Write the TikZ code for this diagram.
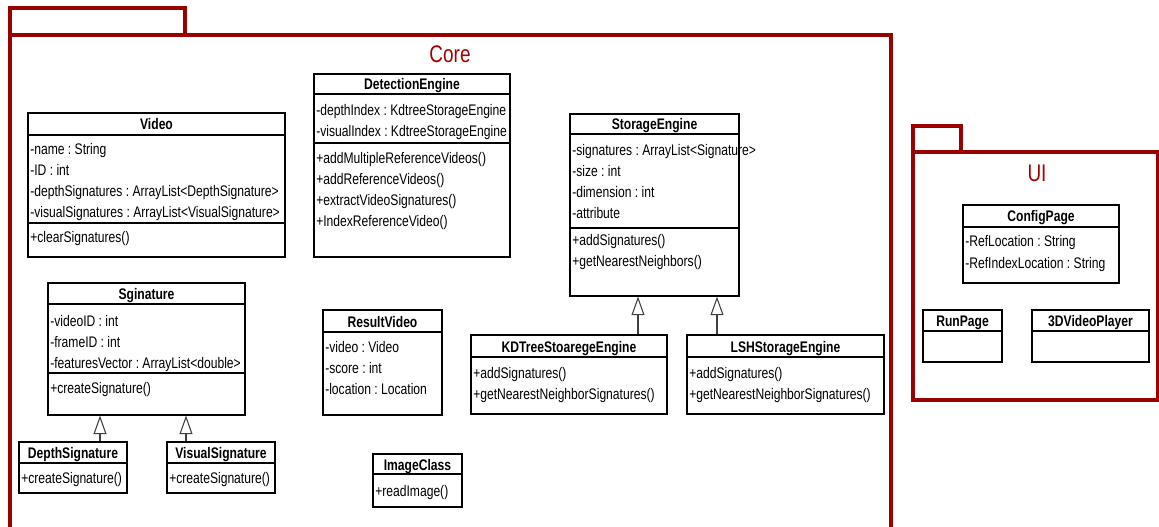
\documentclass[tikz,border=0pt]{standalone}
\usepackage{fontspec}
\setmainfont[FakeStretch=0.79]{Liberation Sans}
\usetikzlibrary{arrows.meta,fit}
\definecolor{pkgred}{RGB}{153,0,0}
\definecolor{lblred}{RGB}{165,0,0}
\frenchspacing
\newcommand\uclass[7]{%
  \node[classbox, fit={(#2,#3) (#4,#5)}] (#1) {};
  \draw[divider] (#2,#6) -- (#4,#6);
  \node[ctitle] (#1-title) at ({(#2+#4)/2},{(#3+#6)/2+6}) {#7};
}
\newcommand\uline[4]{\node[cline] (#1) at (#2,{#3+6}) {#4};}
\begin{document}
\begin{tikzpicture}[x=0.75pt,y=-0.75pt,
  classbox/.style={draw=black, line width=0.8pt, fill=white, inner sep=0pt},
  divider/.style={draw=black, line width=0.8pt},
  ctitle/.style={font=\fontsize{11.5}{13}\selectfont\bfseries\frenchspacing, inner sep=0pt, anchor=base},
  cline/.style={font=\fontsize{11.5}{13}\selectfont\frenchspacing, inner sep=0pt, anchor=base west},
  pkg/.style={draw=pkgred, line width=2.7pt},
  pkglabel/.style={text=lblred, font=\fontsize{18}{20}\selectfont, inner sep=0pt},
  inherit/.style={draw=black!75, line width=0.8pt, -{Triangle[open, width=9.75pt, length=14pt]}}
]
\useasboundingbox[fill=white] (0,0) rectangle (1159,527);

% packages
\draw[pkg] (10,35) rectangle (185,8);
\draw[pkg] (10,540) -- (10,35) -- (891,35) -- (891,540);
\node[pkglabel] (corelabel) at (450,54) {Core};
\draw[pkg] (913,152) rectangle (961,126);
\draw[pkg] (913,152) rectangle (1157.5,400);
\node[pkglabel] (uilabel) at (1037,173) {UI};

% Video
\uclass{video}{28}{113}{285}{257}{135}{Video}
\draw[divider] (28,223) -- (285,223);
\uline{v1}{30}{149}{-name : String}
\uline{v2}{30}{170}{-ID : int}
\uline{v3}{30}{191}{-depthSignatures : ArrayList<DepthSignature>}
\uline{v4}{30}{212}{-visualSignatures : ArrayList<VisualSignature>}
\uline{v5}{30}{237}{+clearSignatures()}

% DetectionEngine
\uclass{det}{314}{74}{510}{257}{94}{DetectionEngine}
\draw[divider] (314,143) -- (510,143);
\uline{d1}{316}{110}{-depthIndex : KdtreeStorageEngine}
\uline{d2}{316}{131}{-visualIndex : KdtreeStorageEngine}
\uline{d3}{316}{158}{+addMultipleReferenceVideos()}
\uline{d4}{316}{179}{+addReferenceVideos()}
\uline{d5}{316}{200}{+extractVideoSignatures()}
\uline{d6}{316}{221}{+IndexReferenceVideo()}

% StorageEngine
\uclass{se}{570}{114}{739}{296}{134}{StorageEngine}
\draw[divider] (570,228) -- (739,228);
\uline{s1}{572}{150}{-signatures : ArrayList<Signature>}
\uline{s2}{572}{171}{-size : int}
\uline{s3}{572}{192}{-dimension : int}
\uline{s4}{572}{213}{-attribute}
\uline{s5}{572}{240}{+addSignatures()}
\uline{s6}{572}{261}{+getNearestNeighbors()}

% KDTree
\uclass{kd}{471}{335}{667}{414}{357}{KDTreeStoaregeEngine}
\uline{k1}{473}{372}{+addSignatures()}
\uline{k2}{473}{393}{+getNearestNeighborSignatures()}

% LSH
\uclass{lsh}{687}{335}{884}{414}{357}{LSHStorageEngine}
\uline{l1}{689}{372}{+addSignatures()}
\uline{l2}{689}{393}{+getNearestNeighborSignatures()}

% Signature
\uclass{sig}{48}{283}{245}{415}{304}{Sginature}
\draw[divider] (48,373) -- (245,373);
\uline{g1}{50}{320}{-videoID : int}
\uline{g2}{50}{341}{-frameID : int}
\uline{g3}{50}{362}{-featuresVector : ArrayList<double>}
\uline{g4}{50}{387}{+createSignature()}

% DepthSignature
\uclass{depth}{19}{442}{127}{493}{463}{DepthSignature}
\uline{p1}{21}{477}{+createSignature()}

% VisualSignature
\uclass{visual}{167}{442}{275}{493}{463}{VisualSignature}
\uline{q1}{169}{477}{+createSignature()}

% ResultVideo
\uclass{res}{323}{310}{442}{415}{332}{ResultVideo}
\uline{r1}{325}{346}{-video : Video}
\uline{r2}{325}{367}{-score : int}
\uline{r3}{325}{388}{-location : Location}

% ImageClass
\uclass{img}{373}{454}{462}{507}{474}{ImageClass}
\uline{i1}{375}{490}{+readImage()}

% UI classes
\uclass{cfg}{963}{205}{1119}{283}{227}{ConfigPage}
\uline{c1}{965}{241}{-RefLocation : String}
\uline{c2}{965}{262}{-RefIndexLocation : String}
\uclass{run}{923}{310}{1002}{362}{331}{RunPage}
\uclass{player}{1032}{310}{1149}{362}{331}{3DVideoPlayer}

% inheritance
\coordinate (x1) at (100,0);
\coordinate (x2) at (186,0);
\coordinate (x3) at (638,0);
\coordinate (x4) at (717,0);
\draw[inherit] (depth.north -| x1) -- (sig.south -| x1);
\draw[inherit] (visual.north -| x2) -- (sig.south -| x2);
\draw[inherit] (kd.north -| x3) -- (se.south -| x3);
\draw[inherit] (lsh.north -| x4) -- (se.south -| x4);
\end{tikzpicture}
\end{document}
